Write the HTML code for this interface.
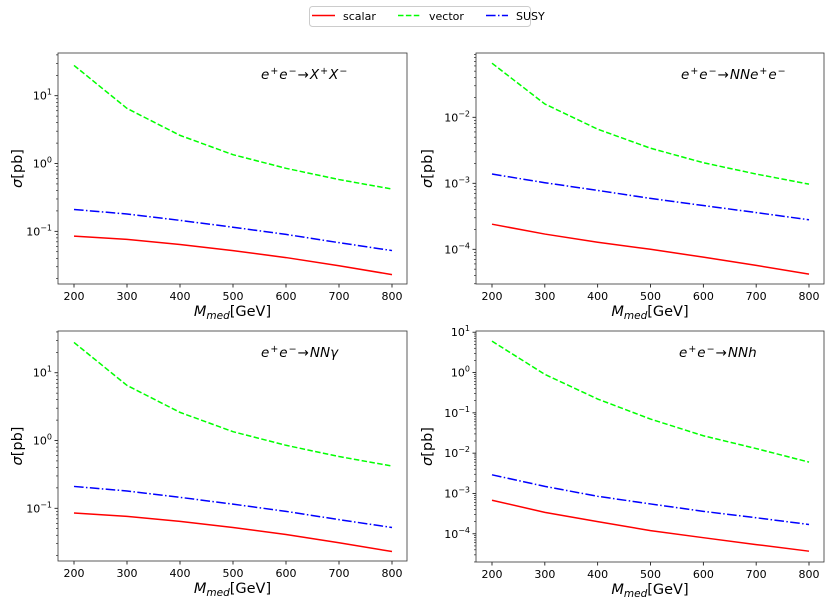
<!DOCTYPE html>
<html><head><meta charset="utf-8"><style>
body{margin:0;background:#fff;}
svg{font-family:"DejaVu Sans","Liberation Sans",sans-serif;}
</style></head><body>
<svg id="fig" width="831" height="603" viewBox="0 0 831 603" xmlns="http://www.w3.org/2000/svg">
<g>
<rect x="309.5" y="6.5" width="221" height="20" rx="3" fill="#fff" stroke="#ccc"/>
<g><line x1="312" y1="15.5" x2="335" y2="15.5" stroke="#ff0000" stroke-width="1.5"/><text x="343" y="20" font-size="11">scalar</text></g>
<g><line x1="398" y1="15.5" x2="420" y2="15.5" stroke="#00ff00" stroke-width="1.5" stroke-dasharray="5.5,2.4"/><text x="429" y="20" font-size="11">vector</text></g>
<g><line x1="486" y1="15.5" x2="508" y2="15.5" stroke="#0000ff" stroke-width="1.5" stroke-dasharray="9.6,2.4,1.5,2.4"/><text x="516" y="20" font-size="11">SUSY</text></g>
</g>
</svg>
<script>
const masses = [200, 300, 400, 500, 600, 700, 800];
const xxScalar = [0.085, 0.076, 0.064, 0.052, 0.041, 0.031, 0.023];
const xxVector = [28, 6.5, 2.6, 1.35, 0.85, 0.58, 0.42];
const xxSusy = [0.21, 0.18, 0.145, 0.115, 0.09, 0.068, 0.052];
const neScalar = [0.00024, 0.00017, 0.000128, 0.0001, 0.000076, 0.000057, 0.000042];
const neVector = [0.066, 0.0159, 0.0066, 0.0034, 0.00205, 0.00138, 0.00097];
const neSusy = [0.00138, 0.00102, 0.00078, 0.00059, 0.00046, 0.00036, 0.00028];
const ngScalar = [0.085, 0.076, 0.064, 0.052, 0.041, 0.031, 0.023];
const ngVector = [28, 6.5, 2.6, 1.35, 0.85, 0.58, 0.42];
const ngSusy = [0.21, 0.18, 0.145, 0.115, 0.09, 0.068, 0.052];
const nhScalar = [0.00068, 0.00034, 0.0002, 0.00012, 0.00008, 0.000054, 0.000037];
const nhVector = [6.0, 0.9, 0.22, 0.07, 0.027, 0.013, 0.006];
const nhSusy = [0.0029, 0.0015, 0.00085, 0.00055, 0.00036, 0.00025, 0.00017];
const xTicks = [200, 300, 400, 500, 600, 700, 800];

const NS = "http://www.w3.org/2000/svg";
const svg = document.getElementById('fig');
function mk(tag, attrs, parent){const e=document.createElementNS(NS,tag);for(const k in attrs)e.setAttribute(k,attrs[k]);(parent||svg).appendChild(e);return e;}

const panels = [
 {name:'xx', L:58, R:407, T:53, B:284, ymin:-1.777, ymax:1.63, decs:[-1,0,1], s:xxScalar, v:xxVector, u:xxSusy, title:['e','+','e','−','→','X','+','X','−']},
 {name:'nne', L:476, R:824, T:53, B:284, ymin:-4.526, ymax:-1.026, decs:[-4,-3,-2], s:neScalar, v:neVector, u:neSusy, title:['e','+','e','−','→','NNe','+','e','−']},
 {name:'nngamma', L:58, R:407, T:331, B:561, ymin:-1.778, ymax:1.616, decs:[-1,0,1], s:ngScalar, v:ngVector, u:ngSusy, title:['e','+','e','−','→','NNγ']},
 {name:'nnh', L:476, R:824, T:331, B:562, ymin:-4.70, ymax:1.03, decs:[-4,-3,-2,-1,0,1], s:nhScalar, v:nhVector, u:nhSusy, title:['e','+','e','−','→','NNh']}
];

panels.forEach(p=>{
 const g = mk('g',{});
 
 
 const x0=p.L+16, x1=p.R-15;
 const xs = v => x0 + (v-200)/600*(x1-x0);
 const ys = v => p.B - (Math.log10(v)-p.ymin)/(p.ymax-p.ymin)*(p.B-p.T);
 const ysl = l => p.B - (l-p.ymin)/(p.ymax-p.ymin)*(p.B-p.T);
 xTicks.forEach(t=>{
  const X=xs(t);
  const tk=mk('line',{x1:X,y1:p.B,x2:X,y2:p.B+3.5,stroke:'#000','stroke-width':0.8},g);
  
  
  const tl=mk('text',{x:X,y:p.B+16,'font-size':11,'text-anchor':'middle',fill:'#000'},g);
  tl.textContent=t;
  
  
 });
 for(let d=Math.floor(p.ymin); d<=Math.ceil(p.ymax); d++){
  for(let m=1;m<10;m++){
   const l=d+Math.log10(m);
   if(l<p.ymin||l>p.ymax) continue;
   const Y=ysl(l);
   const mt=mk('line',{x1:p.L-(m===1?3.5:2),y1:Y,x2:p.L,y2:Y,stroke:'#000','stroke-width':m===1?0.8:0.6},g);
   
   
  }
 }
 p.decs.forEach(d=>{
  const Y=ysl(d);
  const t=mk('text',{x:p.L-6,y:Y+4,'font-size':11,'text-anchor':'end',fill:'#000'},g);
  
  
  const ex=String(d).replace('-','\u2212');
  t.innerHTML='10<tspan dy="-5" font-size="8">'+ex+'</tspan>';
 });
 const fr=mk('rect',{x:p.L,y:p.T,width:p.R-p.L,height:p.B-p.T,fill:'none',stroke:'#333','stroke-width':0.8},g);
 
 
 const series=[[p.v,'#00ff00','5.5,2.4','vector'],[p.u,'#0000ff','9.6,2.4,1.5,2.4','susy'],[p.s,'#ff0000','','scalar']];
 series.forEach(([arr,c,da,nm])=>{
  const pts=arr.map((v,i)=>xs(masses[i]).toFixed(2)+','+ys(v).toFixed(2)).join(' ');
  const pl=mk('polyline',{points:pts,fill:'none',stroke:c,'stroke-width':1.5},g);
  if(da) pl.setAttribute('stroke-dasharray',da);
  
  
 });
 const tt=mk('text',{x:p.L+(p.name==='nne'?204:202),y:p.T+26,'font-size':13.5,fill:'#000'},g);
 
 
 let html='', up=false;
 p.title.forEach(s=>{
  const sup=(s==='+'||s==='−');
  let dy=0;
  if(sup&&!up){dy=-5;up=true;} else if(!sup&&up){dy=5;up=false;}
  const ital = s==='→'?'normal':'italic';
  const pre = sup?'<tspan dx="1"':'<tspan dx="1"';
  html+=pre+' dy="'+dy+'" font-style="'+ital+'"'+(sup?' font-size="9.5"':'')+'>'+s+'</tspan>';
 });
 tt.innerHTML=html;
 const xl=mk('text',{x:(p.L+p.R)/2,y:p.B+32,'font-size':14.5,'text-anchor':'middle',fill:'#000'},g);
 xl.innerHTML='<tspan font-style="italic">M</tspan><tspan font-style="italic" font-size="10.5" dy="3">med</tspan><tspan dy="-3">[GeV]</tspan>';
 
 
 const yl=mk('text',{x:0,y:0,'font-size':14.5,'text-anchor':'middle',fill:'#000',transform:'translate('+(p.L-(p.name==='nnh'||p.name==='nne'?44:36))+','+((p.T+p.B)/2)+') rotate(-90)'},g);
 yl.innerHTML='<tspan font-style="italic">σ</tspan>[pb]';
 
 
});
</script>
</body></html>
